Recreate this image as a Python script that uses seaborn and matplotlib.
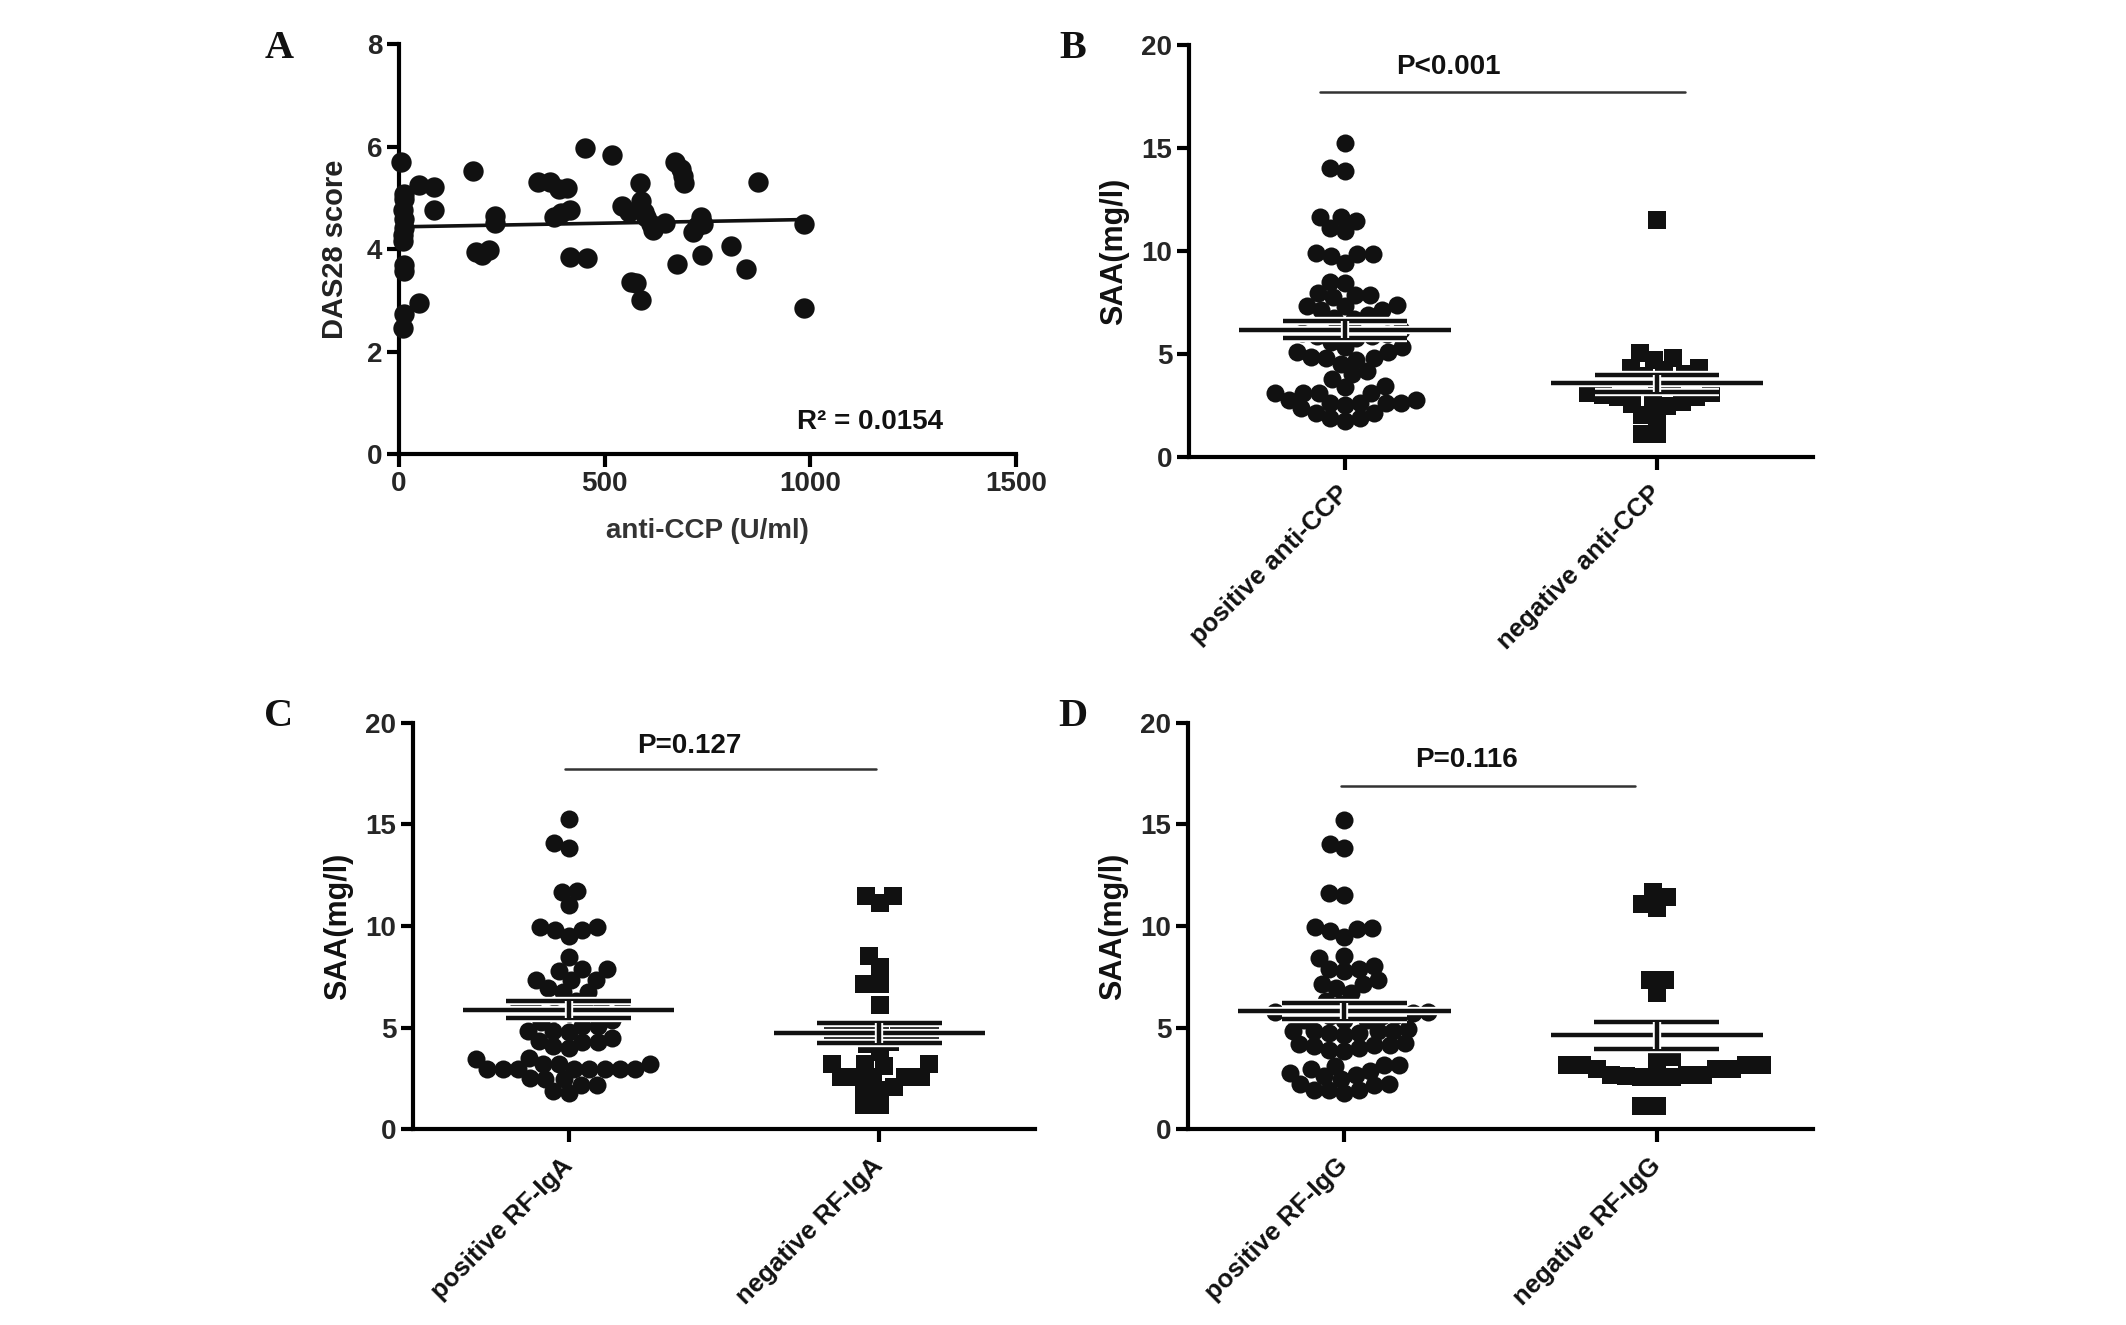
import numpy as np
import pandas as pd
import matplotlib
matplotlib.use("Agg")
import matplotlib.pyplot as plt
import matplotlib.patheffects as pe
import seaborn as sns
import warnings
warnings.filterwarnings("ignore")

# ---------------- data ----------------
# Panel A: anti-CCP vs DAS28
ccp_x = [6, 12, 12, 9, 12, 12, 9, 9, 12, 12, 12, 9, 48, 48, 86, 84, 179, 187, 202, 218,
         234, 234, 337, 367, 389, 408, 376, 395, 415, 415, 457, 453, 518, 543, 560, 586,
         588, 595, 601, 612, 617, 646, 565, 575, 588, 672, 685, 691, 694, 676, 715, 724,
         733, 740, 737, 807, 843, 872, 985, 985]
das28_y = [5.70, 5.07, 4.97, 4.76, 4.58, 4.41, 4.27, 4.16, 3.68, 3.57, 2.73, 2.46, 5.25, 2.94,
           5.21, 4.77, 5.52, 3.95, 3.89, 3.99, 4.65, 4.51, 5.31, 5.30, 5.18, 5.19, 4.62, 4.70,
           4.76, 3.85, 3.82, 5.98, 5.84, 4.83, 4.72, 5.28, 4.93, 4.72, 4.62, 4.48, 4.37, 4.51,
           3.36, 3.33, 3.01, 5.70, 5.56, 5.42, 5.28, 3.71, 4.34, 4.44, 4.62, 4.48, 3.89, 4.06,
           3.61, 5.31, 4.48, 2.84]
r2_text = "R² = 0.0154"

# Panel B: SAA by anti-CCP
ccp_labels = ["positive anti-CCP", "negative anti-CCP"]
saa_pos_ccp = [15.25, 13.9, 14.05, 11.66, 11.66, 11.13, 10.98, 11.45, 9.86, 9.76, 9.86, 9.44, 9.9,
               8.49, 8.45, 7.96, 7.86, 7.86, 7.75, 7.37, 7.33, 7.12, 7.16, 7.33, 6.74, 6.69, 6.9,
               6.17, 5.85, 6.17, 5.8, 6.0, 5.95, 5.85, 5.6,
               5.11, 4.86, 4.79, 5.32, 5.32, 4.73, 4.79, 5.11, 4.52, 4.05, 4.16, 3.8,
               3.46, 3.42, 3.1, 3.1, 3.1, 3.1, 2.51, 2.79, 2.62, 2.62, 2.62, 2.62, 2.79, 2.37,
               2.15, 2.15, 1.9, 1.9, 1.73]
saa_neg_ccp = [11.49, 4.79, 4.73, 5.07, 4.31, 4.22, 4.31, 3.95, 4.01, 2.89, 2.68, 3.1, 3.0, 2.58,
               3.1, 2.68, 2.47, 2.89, 1.94, 1.14, 1.14, 3.6, 3.6, 2.05]
p_ccp = "P<0.001"

# Panel C: SAA by RF-IgA
iga_labels = ["positive RF-IgA", "negative RF-IgA"]
saa_pos_iga = [15.28, 13.83, 14.07, 11.66, 11.72, 11.01, 9.95, 9.51, 9.81, 9.81, 9.95, 8.46, 7.86,
               7.76, 7.86, 7.34, 7.34, 7.34, 6.73, 6.93, 6.73, 6.33,
               5.93, 5.9, 5.7, 5.93, 5.7, 5.9, 5.39, 5.79, 5.29, 5.09, 5.09, 4.84, 4.78, 4.84,
               4.48, 4.28, 4.28, 4.32, 3.98, 4.08, 3.44, 3.48,
               2.97, 2.97, 2.97, 2.97, 2.97, 2.97, 2.97, 2.97, 2.51, 2.45, 3.18, 3.18, 3.18,
               2.17, 2.17, 2.47, 1.77, 1.87]
saa_neg_iga = [11.48, 11.12, 11.48, 8.0, 8.5, 7.16, 7.16, 6.09, 4.88, 4.88, 4.88, 4.88, 4.88, 4.88,
               4.88, 4.18, 4.28, 3.78, 3.08, 3.18, 3.18, 3.18, 2.57, 2.57, 2.57, 2.57, 2.57,
               2.07, 1.91, 1.97, 1.17, 1.17]
p_iga = "P=0.127"

# Panel D: SAA by RF-IgG
igg_labels = ["positive RF-IgG", "negative RF-IgG"]
saa_pos_igg = [15.22, 13.82, 14.04, 11.63, 11.51, 9.91, 9.77, 9.87, 9.47, 9.93, 8.50, 8.42, 8.02,
               7.86, 7.76, 7.86, 7.16, 7.16, 7.32, 6.96, 6.72, 6.30, 6.16,
               5.56, 5.86, 5.36, 5.76, 5.56, 5.7, 5.36, 5.76, 5.62, 5.66, 5.36,
               4.85, 4.85, 4.85, 4.95, 4.75, 4.61, 4.75, 4.85, 4.25, 4.19, 4.15, 4.15,
               3.99, 3.85, 3.91, 4.09, 2.95, 2.75, 3.11, 3.15, 3.15, 2.65, 2.85, 2.59, 2.45,
               2.21, 2.15, 2.21, 1.91, 1.91, 1.91, 1.75]
saa_neg_igg = [11.68, 11.07, 10.91, 11.43, 7.36, 7.36, 6.72, 3.55, 3.15, 3.15, 2.95, 2.95, 2.95,
               3.15, 3.15, 3.45, 2.65, 2.61, 2.55, 2.55, 2.55, 2.65, 2.65, 1.14, 1.14]
p_igg = "P=0.116"

# ---------------- style ----------------
sns.set_theme(style="ticks")
plt.rcParams['font.family'] = ['Liberation Sans', 'DejaVu Sans']
plt.rcParams['axes.linewidth'] = 3.0

W, H = 2126, 1325
fig = plt.figure(figsize=(W / 100, H / 100), dpi=100)
fig.patch.set_facecolor("white")

INK = "#111111"
SWARM_LAYOUT_SIZE = 10.5   # marker size used to lay out the swarm (points overlap a bit)
SWARM_DRAW_SIZE = 13.0     # marker size actually drawn
swarm_collections = []


def add_ax(left, right, top, bottom):
    return fig.add_axes([left / W, 1 - bottom / H, (right - left) / W, (bottom - top) / H])


def style_ax(ax):
    sns.despine(ax=ax)
    for s in ("left", "bottom"):
        ax.spines[s].set_linewidth(3.0)
        ax.spines[s].set_color("black")
    ax.tick_params(axis="both", length=9, width=3.0, color="black", direction="out",
                   pad=3, labelsize=20)
    ax.set_facecolor("white")
    ax.grid(False)


halo = [pe.withStroke(linewidth=6, foreground="white")]


def dot_panel(ax, groups, labels, p_text, line_x, line_y, text_x, text_y):
    df = pd.DataFrame({"group": np.repeat(labels, [len(g) for g in groups]),
                       "value": np.concatenate(groups)})
    for lab, mk in zip(labels, ["o", "s"]):
        n_before = len(ax.collections)
        sns.swarmplot(data=df[df.group == lab], x="group", y="value", order=labels,
                      marker=mk, color=INK, size=SWARM_LAYOUT_SIZE, linewidth=0, ax=ax,
                      zorder=2)
        swarm_collections.extend(ax.collections[n_before:])
    for i, g in enumerate(groups):
        g = np.asarray(g)
        m = g.mean()
        se = g.std(ddof=1) / np.sqrt(len(g))
        ax.hlines(m, i - 0.34, i + 0.34, color=INK, lw=3.2, zorder=5, path_effects=halo)
        ax.hlines([m - se, m + se], i - 0.2, i + 0.2, color=INK, lw=3.2, zorder=5,
                  path_effects=halo)
        ax.vlines(i, m - se, m + se, color=INK, lw=3.2, zorder=5, path_effects=halo)
    ax.plot(line_x, [line_y, line_y], color="#333333", lw=1.8, zorder=3)
    ax.text(text_x, text_y, p_text, ha="center", va="center", fontsize=20,
            fontweight="bold", color=INK)
    style_ax(ax)
    ax.set_xlim(-0.5, 1.5)
    ax.set_ylim(0, 20)
    ax.set_yticks([0, 5, 10, 15, 20])
    ax.set_xlabel("")
    ax.set_ylabel("SAA(mg/l)", fontsize=22, fontweight="bold", labelpad=9, color=INK)
    for t in ax.get_yticklabels():
        t.set_fontweight("bold")
    ax.set_xticks([0, 1])
    ax.set_xticklabels(labels, rotation=45, ha="right", va="center",
                       rotation_mode="anchor", fontsize=18.5, fontweight="bold", color=INK)
    for t in ax.get_xticklabels():
        t.set_y(-0.04)


# ---------- Panel A ----------
axA = add_ax(399, 1016, 44, 454)
sns.regplot(x=np.array(ccp_x), y=np.array(das28_y), ax=axA, ci=None, truncate=True,
            scatter_kws=dict(s=215, color=INK, alpha=1, linewidths=0, clip_on=False, zorder=3),
            line_kws=dict(color=INK, lw=2.6, zorder=4))
style_ax(axA)
axA.set_xlim(0, 1500)
axA.set_ylim(0, 8)
axA.set_xticks([0, 500, 1000, 1500])
axA.set_yticks([0, 2, 4, 6, 8])
for t in axA.get_xticklabels() + axA.get_yticklabels():
    t.set_fontweight("bold")
axA.set_xlabel("anti-CCP (U/ml)", fontsize=20, fontweight="bold", labelpad=15, color="#333333")
axA.set_ylabel("DAS28 score", fontsize=21, fontweight="bold", labelpad=13, color="#222222")
axA.text(1146, 0.62, r2_text, ha="center", va="center", fontsize=20, fontweight="bold",
         color=INK)

# ---------- Panel B ----------
axB = add_ax(1189, 1813, 45, 457)
dot_panel(axB, [saa_pos_ccp, saa_neg_ccp], ccp_labels, p_ccp,
          [-0.08, 1.09], 17.74, 0.33, 18.95)

# ---------- Panel C ----------
axC = add_ax(413, 1035, 723, 1129)
dot_panel(axC, [saa_pos_iga, saa_neg_iga], iga_labels, p_iga,
          [-0.01, 0.99], 17.75, 0.39, 18.85)

# ---------- Panel D ----------
axD = add_ax(1188, 1813, 723, 1129)
dot_panel(axD, [saa_pos_igg, saa_neg_igg], igg_labels, p_igg,
          [-0.01, 0.93], 16.9, 0.39, 18.2)

# panel letters
for letter, (px, py) in zip("ABCD", [(279, 48), (1073, 48), (279, 716), (1073, 716)]):
    fig.text(px / W, 1 - py / H, letter, ha="center", va="center", fontsize=29,
             fontweight="bold", family=["Liberation Serif", "DejaVu Serif"], color=INK)

# lay out the swarms once, then freeze positions and draw the markers larger
fig.canvas.draw()
for coll in swarm_collections:
    if "draw" in coll.__dict__:
        del coll.draw
    coll.set_sizes([SWARM_DRAW_SIZE ** 2])

fig.savefig("out.png", dpi=100, facecolor="white")
